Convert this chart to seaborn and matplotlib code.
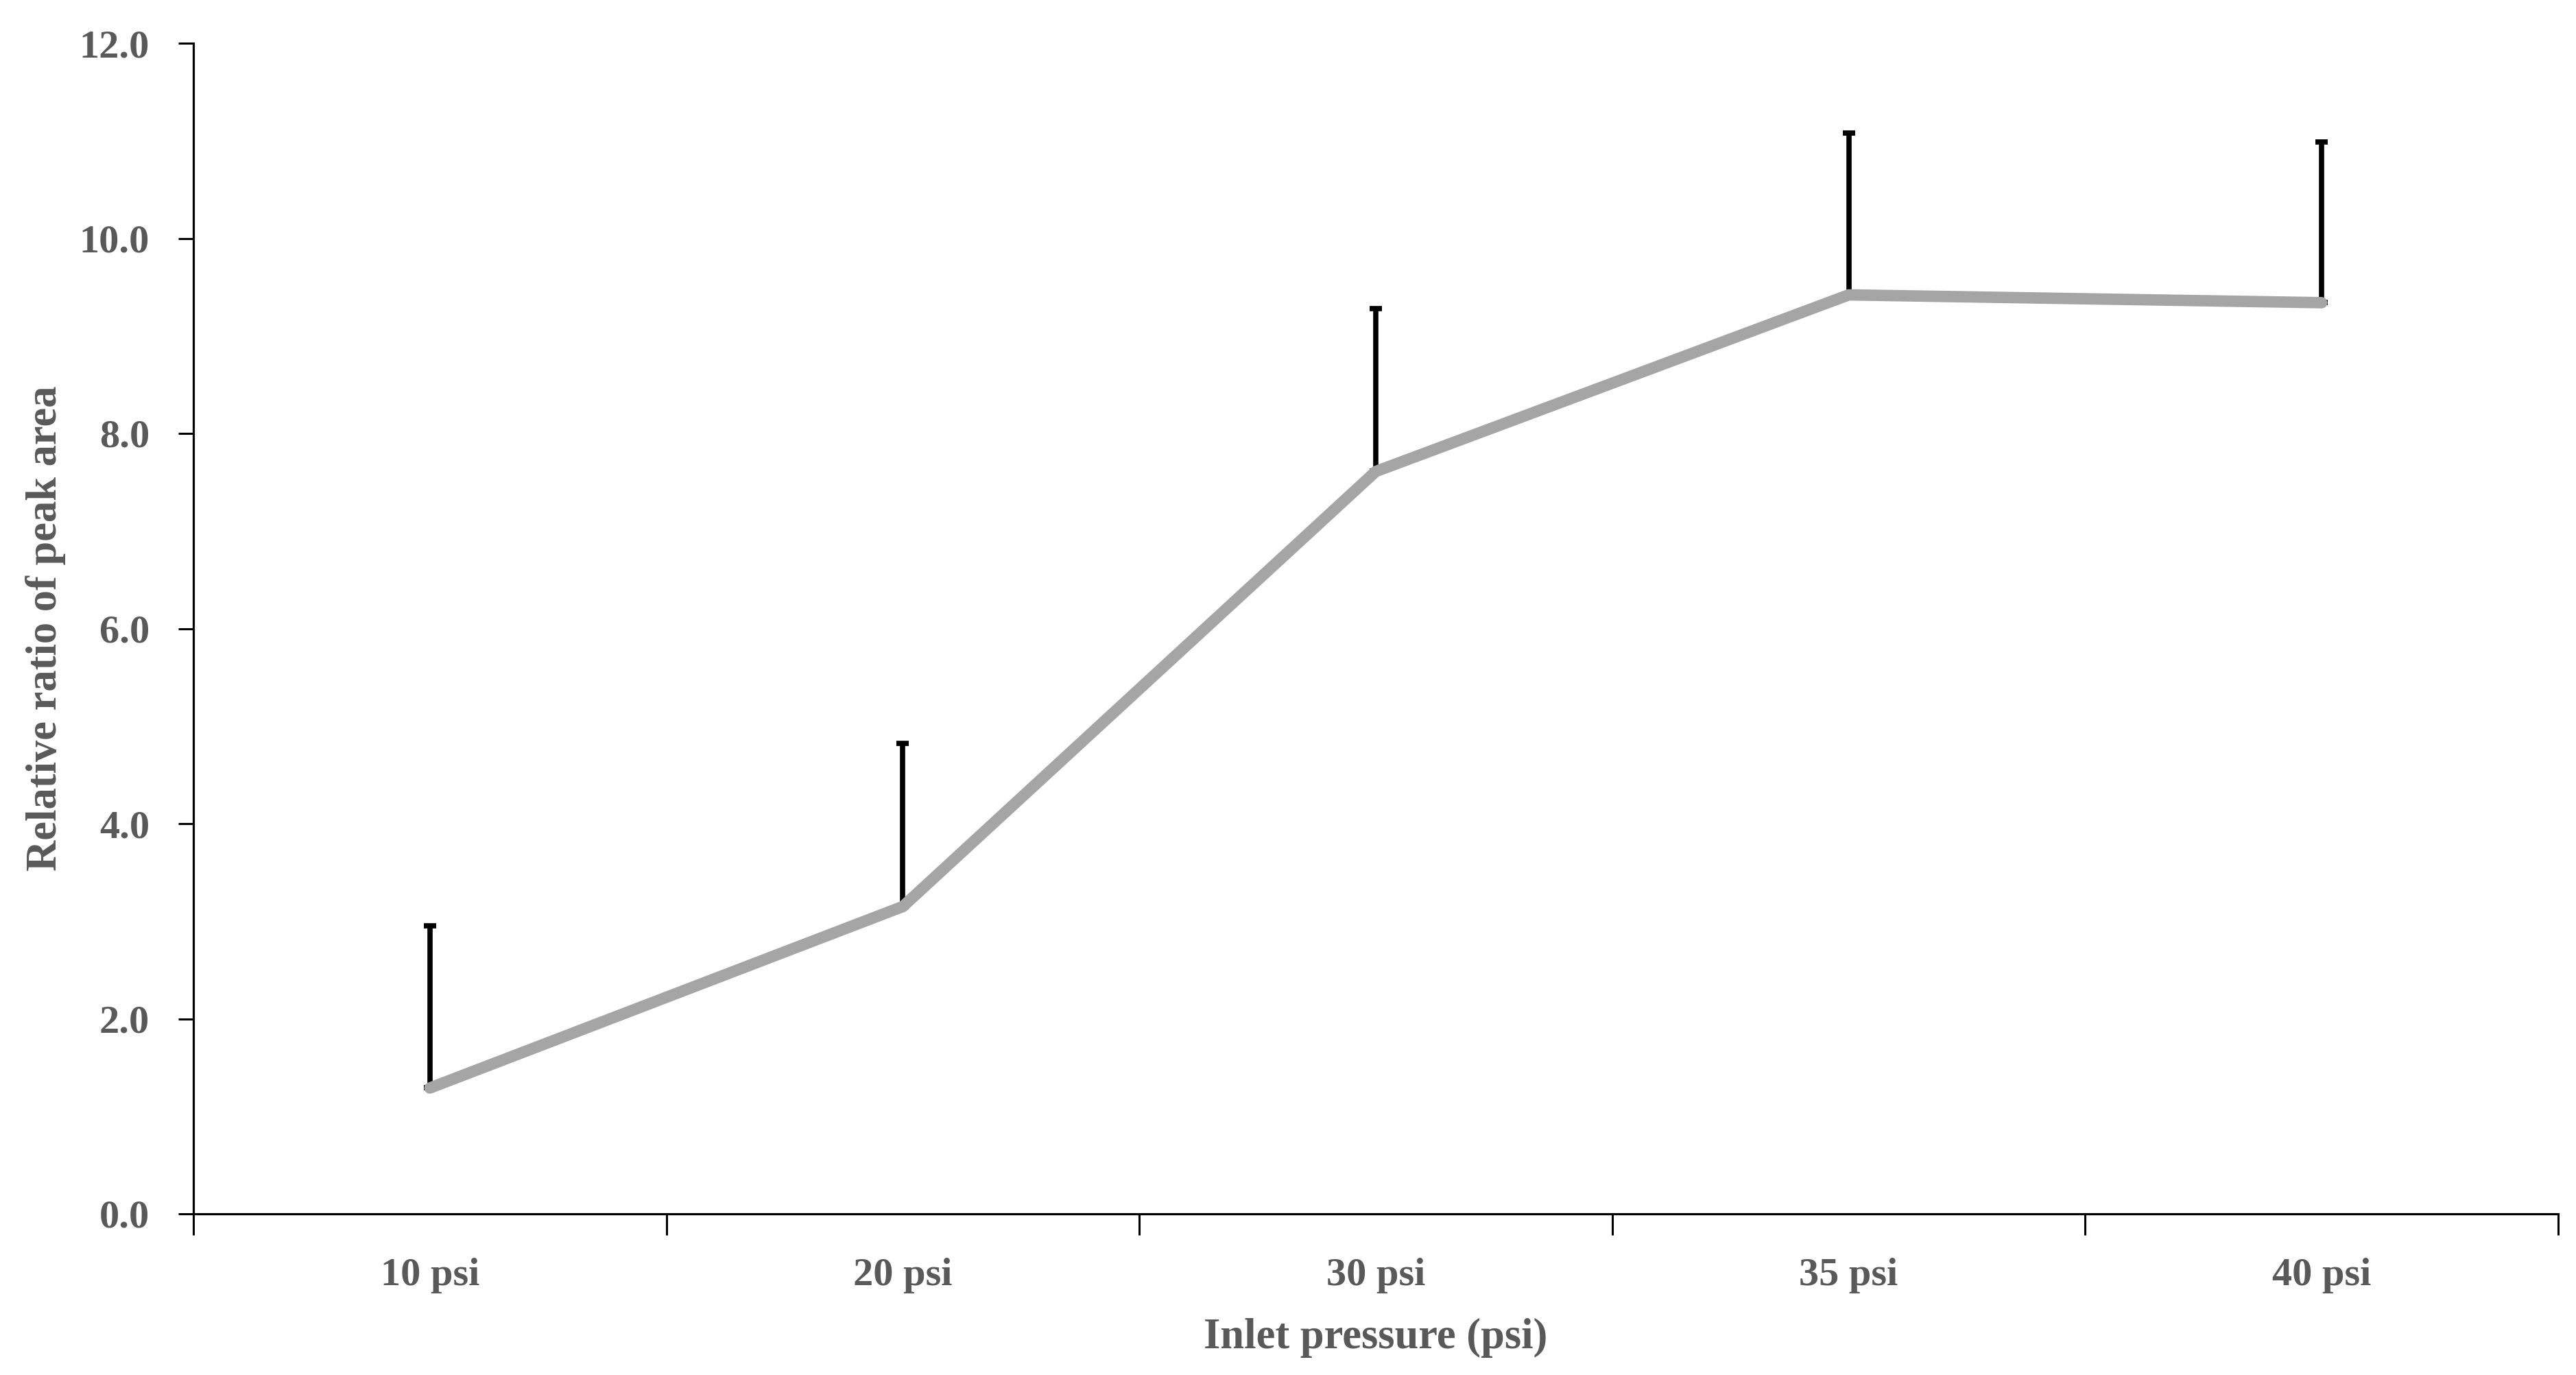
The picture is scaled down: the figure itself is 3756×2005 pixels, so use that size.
import matplotlib
matplotlib.use("Agg")
import matplotlib.pyplot as plt
import seaborn as sns
import numpy as np
import pandas as pd
from matplotlib.ticker import FixedLocator

categories = ["10 psi", "20 psi", "30 psi", "35 psi", "40 psi"]
values = [1.29, 3.15, 7.61, 9.42, 9.34]
upper_err = [1.66, 1.67, 1.67, 1.66, 1.65]
y_ticks = [0.0, 2.0, 4.0, 6.0, 8.0, 10.0, 12.0]
y_tick_labels = ["0.0", "2.0", "4.0", "6.0", "8.0", "10.0", "12.0"]
x_title = "Inlet pressure (psi)"
y_title = "Relative ratio of peak area"

sns.set_style("white")
plt.rcParams['font.family'] = ['Liberation Serif', 'DejaVu Serif']
plt.rcParams['font.weight'] = 'bold'

text_color = "#595959"
DPI = 100
fig = plt.figure(figsize=(37.56, 20.05), dpi=DPI)
ax = fig.add_axes([282/3756, (2005-1770)/2005, (3730-282)/3756, (1770-63)/2005])

df = pd.DataFrame({"pressure": categories, "ratio": values})

zeros = [0]*len(values)
ax.errorbar(categories, values, yerr=[zeros, upper_err], fmt="none",
            ecolor="black", elinewidth=5.5, capsize=6.8, capthick=5.5, zorder=2)
sns.lineplot(data=df, x="pressure", y="ratio", ax=ax, color="#A5A5A5",
             linewidth=12, sort=False, zorder=3, solid_capstyle="round")

ax.set_xlim(-0.5, len(categories) - 0.5)
ax.set_ylim(0, 12)
ax.set_yticks(y_ticks)
ax.set_yticklabels(y_tick_labels)
ax.xaxis.set_minor_locator(FixedLocator(np.arange(-0.5, len(categories), 1.0)))

for s in ["top", "right"]:
    ax.spines[s].set_visible(False)
for s in ["left", "bottom"]:
    ax.spines[s].set_color("black")
    ax.spines[s].set_linewidth(2.3)

ax.tick_params(axis="x", which="major", length=0, pad=46, labelsize=42, labelcolor=text_color)
ax.tick_params(axis="x", which="minor", direction="out", length=22, width=2.2, color="black", bottom=True)
ax.tick_params(axis="y", which="major", direction="out", length=16, width=2.2, color="black",
               left=True, pad=30, labelsize=42, labelcolor=text_color)

for lab in ax.get_xticklabels() + ax.get_yticklabels():
    lab.set_fontweight("bold")

ax.set_xlabel(x_title, fontsize=45, color=text_color, fontweight="bold", labelpad=26)
ax.set_ylabel(y_title, fontsize=45, color=text_color, fontweight="bold", labelpad=14)
ax.grid(False)

fig.savefig("out.png", dpi=DPI, facecolor="white")
